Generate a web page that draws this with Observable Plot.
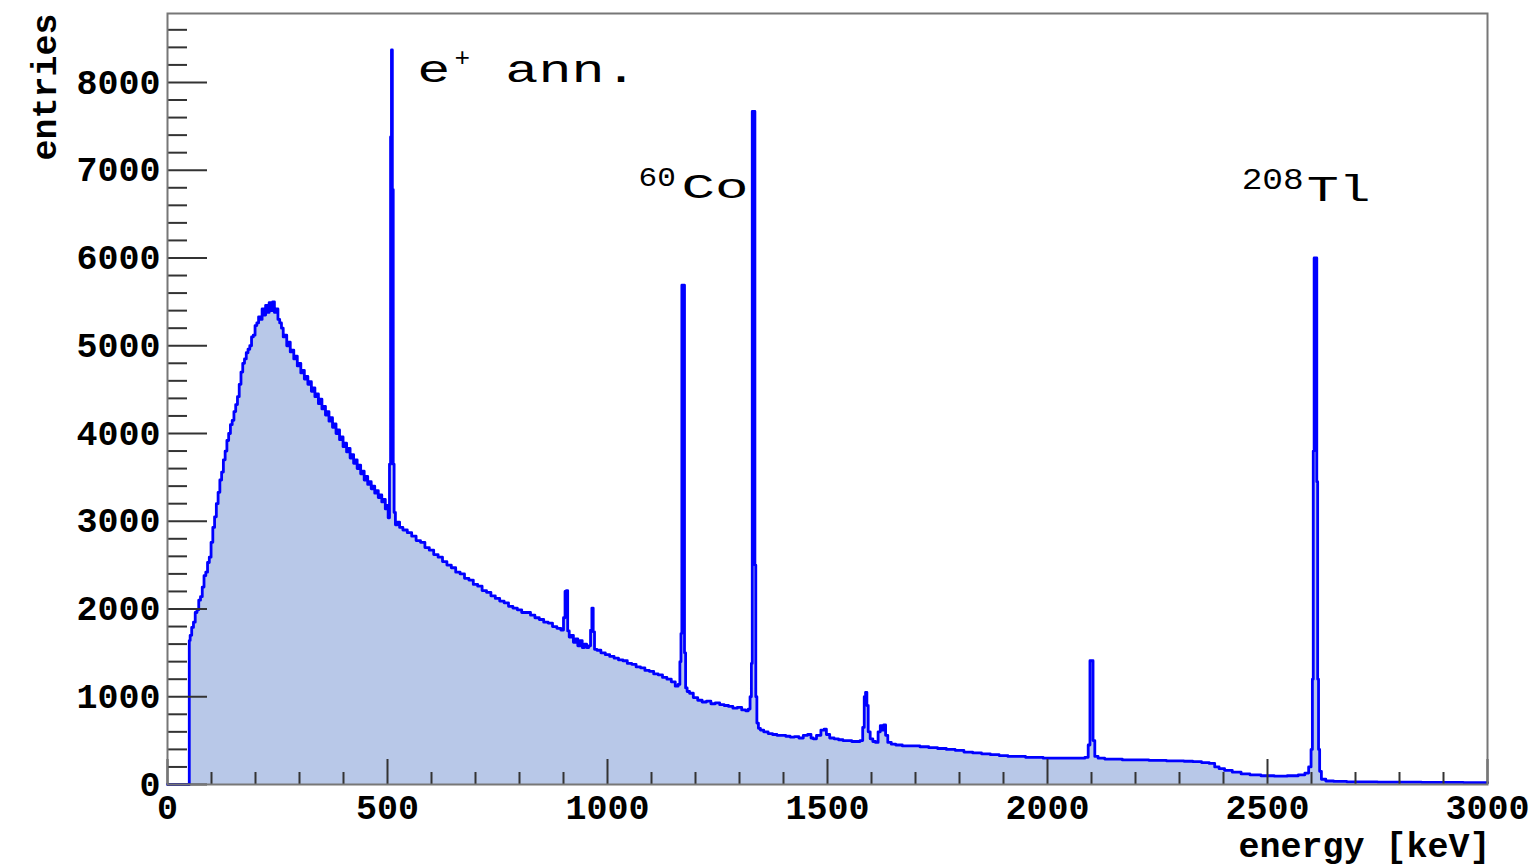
<!DOCTYPE html>
<html><head><meta charset="utf-8">
<script src="https://cdn.jsdelivr.net/npm/d3@7"></script>
<script src="https://cdn.jsdelivr.net/npm/@observablehq/plot@0.6"></script>
<style>html,body{margin:0;padding:0;background:#fff;}</style>
</head><body><div id="chart"></div>
<script>
// ---- data (energy in keV, entries) ----
const energy = [0,49,50,53,57,61,65,69,73,77,81,85,89,93,97,101,105,109,113,117,121,125,129,133,137,141,145,149,153,157,161,165,169,173,177,181,185,189,193,197,201,205,209,213,217,221,225,229,233,237,241,245,249,253,257,261,265,269,273,277,281,285,289,293,297,301,305,309,313,317,321,325,329,333,337,341,345,349,353,357,361,365,369,373,377,381,385,389,393,397,401,405,409,413,417,421,425,429,433,437,441,445,449,453,457,461,465,469,473,477,481,485,489,493,497,500,503,506,508,510,512,514,516,520,
525,530,540,550,560,570,580,590,600,610,620,630,640,650,660,670,680,690,700,710,720,730,740,750,760,770,780,790,800,810,820,830,840,850,860,870,880,890,898,902,905,908,911,915,920,925,930,935,940,945,950,955,960,963,966,969,972,980,990,1000,1010,1020,1030,1040,1050,1060,1070,1080,1090,1100,1110,1120,1130,1140,1150,1158,1163,1166,1168,1170,1174,1176,1179,1183,
1190,1200,1210,1220,1230,1240,1250,1260,1270,1280,1290,1300,1310,1318,1322,1326,1328,1330,1334,1336,1338,1341,1345,1350,1360,1370,1380,1390,1400,1410,1420,1430,1440,1450,1460,1465,1470,1480,1490,1495,1500,1510,1520,1530,1540,1550,1560,1570,1578,1582,1585,1588,1591,1594,1600,1606,1612,1618,1622,1626,1630,1634,1640,1650,1660,1680,1700,1720,1740,1760,1780,1800,1820,1840,1860,1880,1900,1920,1940,1960,1980,2000,2020,2040,2060,2080,2090,2095,2098,2102,2105,2110,2120,2140,2160,2180,2200,2220,2240,2260,2280,2300,2320,2340,2360,2375,2385,2395,2410,2430,2450,2470,2500,2530,2560,2580,2590,2597,2601,2603,2605,2607,2611,2613,2615,2617,2620,2625,2640,2660,2700,2800,2900,2990,3000];
const counts = [0,0,1640,1700,1790,1850,1960,1990,2100,2140,2250,2380,2420,2530,2590,2760,2930,3050,3200,3330,3470,3560,3700,3800,3920,4000,4100,4150,4250,4330,4420,4560,4700,4800,4850,4920,4960,5000,5100,5120,5230,5260,5330,5300,5420,5350,5460,5380,5490,5400,5500,5380,5420,5300,5260,5200,5100,5120,5000,5040,4930,4950,4850,4880,4770,4800,4690,4720,4620,4650,4560,4590,4480,4520,4420,4450,4340,4390,4280,4310,4210,4250,4140,4180,4070,4110,4000,4040,3930,3960,3850,3890,3790,3830,3720,3760,3660,3700,3600,3640,3540,3570,3470,3510,3420,3450,3370,3400,3320,3350,3270,3300,3220,3250,3140,3180,3040,3650,7380,8370,6780,3650,3100,2960,
2990,2930,2900,2870,2830,2780,2760,2700,2670,2620,2590,2540,2500,2470,2420,2400,2350,2330,2280,2260,2210,2190,2150,2120,2090,2070,2030,2010,1990,1960,1960,1930,1900,1880,1850,1840,1800,1780,1760,1900,2200,2210,1750,1680,1700,1620,1660,1580,1640,1560,1600,1560,1580,1760,2010,1740,1540,1530,1500,1480,1460,1440,1420,1410,1380,1370,1340,1330,1300,1290,1260,1250,1220,1200,1170,1120,1140,1400,1720,5690,5690,1500,1100,1060,
1040,990,960,940,950,920,930,910,900,890,870,880,850,840,860,1000,1380,7670,7670,2500,1000,700,640,620,600,580,570,560,560,550,540,545,530,560,570,530,520,560,620,630,570,530,520,510,500,500,490,490,500,650,1000,1050,900,600,520,490,480,600,670,620,680,560,480,460,450,440,440,430,420,410,400,390,370,360,350,340,330,320,320,310,310,300,300,300,300,300,310,450,1410,1410,500,320,300,290,290,280,280,280,275,275,270,270,265,260,250,240,200,180,160,140,120,110,100,95,100,110,130,200,400,1200,3800,6000,6000,3450,1200,400,150,60,40,35,30,28,25,22,22];

const xMajorTicks = [0,500,1000,1500,2000,2500,3000];
const xMinorTicks = [100,200,300,400,600,700,800,900,1100,1200,1300,1400,1600,1700,1800,1900,2100,2200,2300,2400,2600,2700,2800,2900];
const yMajorTicks = [0,1000,2000,3000,4000,5000,6000,7000,8000];
const yMinorTicks = [200,400,600,800,1200,1400,1600,1800,2200,2400,2600,2800,3200,3400,3600,3800,4200,4400,4600,4800,5200,5400,5600,5800,6200,6400,6600,6800,7200,7400,7600,7800,8200,8400,8600];

const xTitle = "energy [keV]";
const yTitle = "entries";
// annotations: peak energy they refer to, base text, superscript
const annPeak = [511, 1332, 2614];
const annBase = ["e", "Co", "Tl"];
const annSup  = ["+", "60", "208"];
const annTail = ["ann."];

const spectrum = energy.map((e, i) => ({energy: e, count: counts[i]}));

const FONT = "'Liberation Mono', 'Courier New', monospace";

const plot = Plot.plot({
  width: 1536,
  height: 868,
  marginLeft: 167,
  marginRight: 49,
  marginTop: 13,
  marginBottom: 84,
  x: {domain: [0, 3000], axis: null},
  y: {domain: [0, 8786], axis: null},
  style: {fontFamily: FONT, fontWeight: "bold", background: "#fff", color: "#000"},
  marks: [
    Plot.areaY(spectrum, {x: "energy", y: "count", curve: "step", fill: "#b8c8e8"}),
    Plot.lineY(spectrum, {x: "energy", y: "count", curve: "step", stroke: "#0000ff", strokeWidth: 2.8}),
    Plot.tickY(yMinorTicks, {y: d => d, insetRight: 1300, stroke: "#333", strokeWidth: 2}),
    Plot.tickY(yMajorTicks, {y: d => d, insetRight: 1280, stroke: "#333", strokeWidth: 2}),
    Plot.tickX(xMinorTicks, {x: d => d, insetTop: 759, stroke: "#333", strokeWidth: 2}),
    Plot.tickX(xMajorTicks, {x: d => d, insetTop: 746, stroke: "#333", strokeWidth: 2}),
    Plot.frame({stroke: "#777", strokeWidth: 2}),
    Plot.text(yMajorTicks, {y: d => d, text: d => String(d), frameAnchor: "left", textAnchor: "end", dx: -7, fontSize: 35, fontWeight: "bold", fill: "#000"}),
    Plot.text(xMajorTicks, {x: d => d, text: d => String(d), frameAnchor: "bottom", lineAnchor: "top", dy: 10, fontSize: 35, fontWeight: "bold", fill: "#000"}),
    Plot.text([yTitle], {text: d => d, frameAnchor: "top-left", rotate: -90, textAnchor: "end", lineAnchor: "bottom", dx: -112, dy: 0, fontSize: 35, fontWeight: "bold"}),
    Plot.text([xTitle], {text: d => d, frameAnchor: "bottom-right", textAnchor: "end", lineAnchor: "bottom", dx: 3, dy: 72, fontSize: 35, fontWeight: "bold"}),
    // e+ ann.
    Plot.text([annBase[0]], {x: [annPeak[0]], text: d => d, frameAnchor: "top", textAnchor: "start", lineAnchor: "bottom", dx: 25, dy: 68, fontSize: 38, fontWeight: "normal"}),
    Plot.text([annSup[0]], {x: [annPeak[0]], text: d => d, frameAnchor: "top", textAnchor: "middle", lineAnchor: "bottom", dx: 70, dy: 52, fontSize: 26, fontWeight: "normal"}),
    Plot.text([annTail[0]], {x: [annPeak[0]], text: d => d, frameAnchor: "top", textAnchor: "start", lineAnchor: "bottom", dx: 113, dy: 68, fontSize: 38, fontWeight: "normal"}),
    // 60Co
    Plot.text([annSup[1]], {x: [annPeak[1]], text: d => d, frameAnchor: "top", textAnchor: "start", lineAnchor: "bottom", dx: -115, dy: 172, fontSize: 27, fontWeight: "normal"}),
    Plot.text([annBase[1]], {x: [annPeak[1]], text: d => d, frameAnchor: "top", textAnchor: "start", lineAnchor: "bottom", dx: -72, dy: 184, fontSize: 36, fontWeight: "normal"}),
    // 208Tl
    Plot.text([annSup[2]], {x: [annPeak[2]], text: d => d, frameAnchor: "top", textAnchor: "start", lineAnchor: "bottom", dx: -76, dy: 175, fontSize: 30, fontWeight: "normal"}),
    Plot.text([annBase[2]], {x: [annPeak[2]], text: d => d, frameAnchor: "top", textAnchor: "start", lineAnchor: "bottom", dx: -11, dy: 187, fontSize: 36, fontWeight: "normal"})
  ]
});
document.getElementById("chart").appendChild(plot);

// horizontally widen the annotation lettering (about its left edge), as in the reference
const widen = {"e": 1.45, "ann.": 1.45, "Co": 1.55, "Tl": 1.48, "60": 1.15, "208": 1.15};
d3.select(plot).selectAll("text").each(function() {
  const s = widen[this.textContent];
  if (!s) return;
  const b = this.getBBox();
  const t0 = this.getAttribute("transform") || "";
  this.setAttribute("transform", `${t0} translate(${b.x},0) scale(${s},1) translate(${-b.x},0)`);
});
</script>
</body></html>
